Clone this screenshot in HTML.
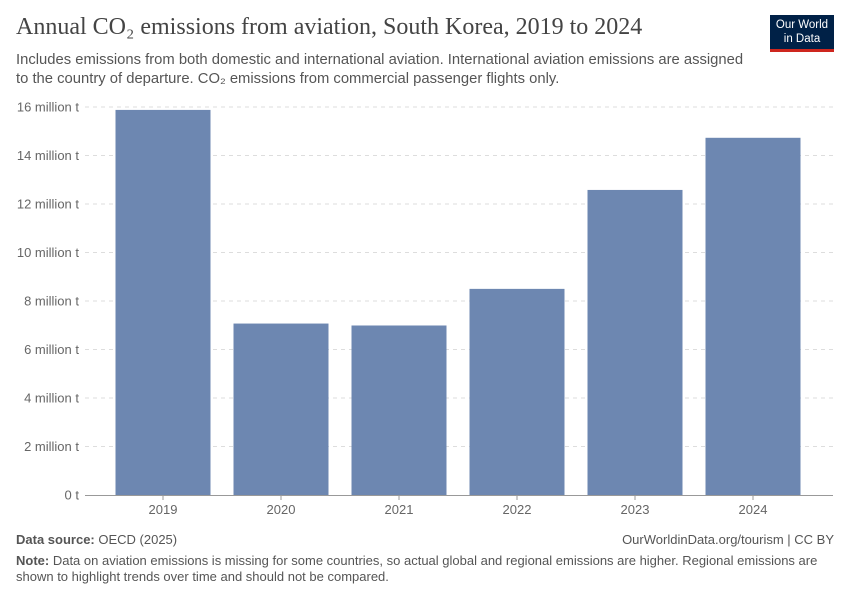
<!DOCTYPE html>
<html><head><meta charset="utf-8"><style>
body{margin:0;background:#fff;font-family:"Liberation Sans",sans-serif;}
#wrap{position:relative;width:850px;height:600px;overflow:hidden;}
.t{position:absolute;white-space:nowrap;}
</style></head><body>
<div id="wrap">
<div class="t" style="left:16px;top:14px;font-family:'Liberation Serif',serif;font-size:24px;color:#444;">Annual CO₂ emissions from aviation, South Korea, 2019 to 2024</div>
<div class="t" style="left:16px;top:51px;font-size:14.8px;color:#555;line-height:19px;">Includes emissions from both domestic and international aviation. International aviation emissions are assigned<br>to the country of departure. CO₂ emissions from commercial passenger flights only.</div>
<div style="position:absolute;left:770px;top:15px;width:64px;height:37px;background:#002147;border-bottom:3px solid #ce261e;color:#fff;font-size:11.5px;text-align:center;line-height:14px;padding-top:3px;box-sizing:border-box;">Our World<br>in Data</div>
<svg id="chart" width="850" height="600" style="position:absolute;left:0;top:0"></svg>
<div class="t" style="left:16px;top:532px;font-size:13px;color:#555;"><b>Data source:</b> OECD (2025)</div>
<div class="t" style="right:16px;top:532px;font-size:13px;color:#555;">OurWorldinData.org/tourism | CC BY</div>
<div class="t" style="left:16px;top:553px;font-size:13px;color:#555;line-height:16px;"><b>Note:</b> Data on aviation emissions is missing for some countries, so actual global and regional emissions are higher. Regional emissions are<br>shown to highlight trends over time and should not be compared.</div>
</div>
<script>
const categories=["2019","2020","2021","2022","2023","2024"];
const values=[15.88,7.07,6.99,8.50,12.58,14.73];
const ticks=[0,2,4,6,8,10,12,14,16];
const tickLabels=["0 t","2 million t","4 million t","6 million t","8 million t","10 million t","12 million t","14 million t","16 million t"];
const svg=document.getElementById('chart');
const NS='http://www.w3.org/2000/svg';
const y=v=>495-v*24.25;
const x=i=>104+i*118;
function mk(tag,attrs){const e=document.createElementNS(NS,tag);for(const k in attrs)e.setAttribute(k,attrs[k]);svg.appendChild(e);return e;}
ticks.forEach((t,i)=>{
 if(t>0){const g=mk('line',{x1:85,x2:833,y1:y(t),y2:y(t),stroke:'#ddd','stroke-dasharray':'4,4'});
 
 }
 const l=mk('text',{x:79,y:y(t)+4.5,'text-anchor':'end','font-size':13,fill:'#666','font-family':'Liberation Sans'});
 l.textContent=tickLabels[i];
 
 
});
values.forEach((v,i)=>{
 const r=mk('rect',{x:x(i)+11.5,y:y(v),width:95,height:495-y(v),fill:'#6d87b1'});
 
 
 const tk=mk('line',{x1:x(i)+59,x2:x(i)+59,y1:495,y2:500,stroke:'#999'});
 
 
 const l=mk('text',{x:x(i)+59,y:514,'text-anchor':'middle','font-size':13,fill:'#666','font-family':'Liberation Sans'});
 l.textContent=categories[i];
 
 
});
const ax=mk('line',{x1:85,x2:833,y1:495.5,y2:495.5,stroke:'#999'});


</script>
</body></html>
